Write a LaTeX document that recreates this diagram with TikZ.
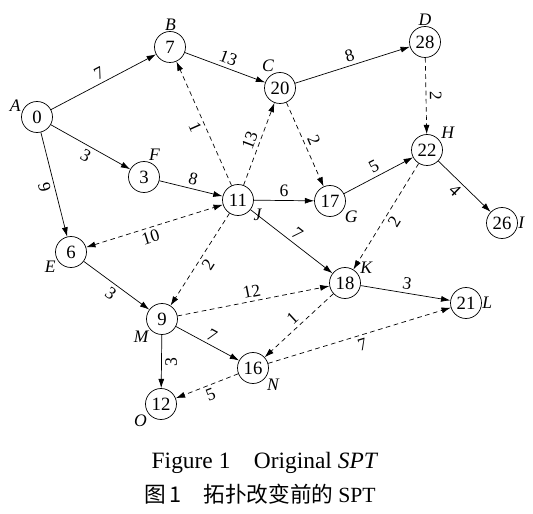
\documentclass[tikz,border=0pt]{standalone}
\usepackage{fontspec}
\setmainfont{Liberation Serif}
\newfontfamily\cjk{Noto Sans CJK SC}
\usetikzlibrary{arrows.meta}

\begin{document}
\begin{tikzpicture}[x=0.03cm, y=-0.03cm,
	vtx/.style={draw, circle, minimum size=0.93cm, inner sep=0pt, line width=0.6pt, font=\fontsize{16}{18}\selectfont},
	tree/.style={-{Latex[length=2.8mm, width=1.8mm]}, line width=0.6pt},
	alt/.style={tree, dash pattern=on 4pt off 3pt},
	w/.style={font=\fontsize{15}{17}\selectfont, sloped, inner sep=3pt},
	lbl/.style={font=\fontsize{15}{17}\selectfont\itshape, label distance=-3pt}
]
	\useasboundingbox (0,0) rectangle (533,514);

	\node[vtx, label={[lbl]172:A}] (a) at (37,117) {0};
	\node[vtx, label={[lbl]88:B}] (b) at (170,47) {7};
	\node[vtx, label={[lbl]100:C}] (c) at (280,88) {20};
	\node[vtx, label={[lbl]90:D}] (d) at (425,42) {28};
	\node[vtx, label={[lbl]85:F}] (f) at (144,177) {3};
	\node[vtx, label={[lbl]-22:J}] (j) at (238,200) {11};
	\node[vtx, label={[lbl]-30:G}] (g) at (330,201) {17};
	\node[vtx, label={[lbl]35:H}] (h) at (427,150) {22};
	\node[vtx, label={[lbl]0:I}] (i) at (502,223) {26};
	\node[vtx, label={[lbl]-155:E}] (e) at (71,252) {6};
	\node[vtx, label={[lbl]25:K}] (k) at (345,283) {18};
	\node[vtx, label={[lbl]0:L}] (l) at (466,303) {21};
	\node[vtx, label={[lbl]-140:M}] (m) at (162,319) {9};
	\node[vtx, label={[lbl]-35:N}] (n) at (253,368) {16};
	\node[vtx, label={[lbl]-145:O}] (o) at (161,404) {12};

	% tree edges
	\draw[tree] (a) -- node[w, above] {7} (b);
	\draw[tree] (a) -- node[w, below] {3} (f);
	\draw[tree] (a) -- node[w, below] {9} (e);
	\draw[tree] (b) -- node[w, above] {13} (c);
	\draw[tree] (c) -- node[w, above] {8} (d);
	\draw[tree] (f) -- node[w, above] {8} (j);
	\draw[tree] (j) -- node[w, above] {6} (g);
	\draw[tree] (g) -- node[w, above] {5} (h);
	\draw[tree] (h) -- node[w, below, pos=0.45] {4} (i);
	\draw[tree] (j) -- node[w, above] {7} (k);
	\draw[tree] (e) -- node[w, below] {3} (m);
	\draw[tree] (m) -- node[w, above] {7} (n);
	\draw[tree] (m) -- node[w, below] {3} (o);
	\draw[tree] (k) -- node[w, above] {3} (l);

	% other links
	\draw[alt] (j) -- node[w, below] {1} (b);
	\draw[alt] (j) -- node[w, above] {13} (c);
	\draw[alt] (c) -- node[w, above] {2} (g);
	\draw[alt] (d) -- node[w, above] {2} (h);
	\draw[alt] (h) -- node[w, below] {2} (k);
	\draw[alt, {Latex[length=2.8mm, width=1.8mm]}-{Latex[length=2.8mm, width=1.8mm]}] (e) -- node[w, below, pos=0.45] {10} (j);
	\draw[alt] (j) -- node[w, below] {2} (m);
	\draw[alt] (m) -- node[w, above] {12} (k);
	\draw[alt] (k) -- node[w, above] {1} (n);
	\draw[alt] (n) -- node[w, below] {7} (l);
	\draw[alt] (n) -- node[w, below] {5} (o);

	\node[font=\fontsize{20}{22}\selectfont] (cap1) at (265,463) {Figure 1\quad Original \textit{SPT}};
	\node[font=\fontsize{18.5}{21}\selectfont] (cap2) at (260,494) {\cjk 图\,1\quad 拓扑改变前的\ \rmfamily SPT};
\end{tikzpicture}
\end{document}
